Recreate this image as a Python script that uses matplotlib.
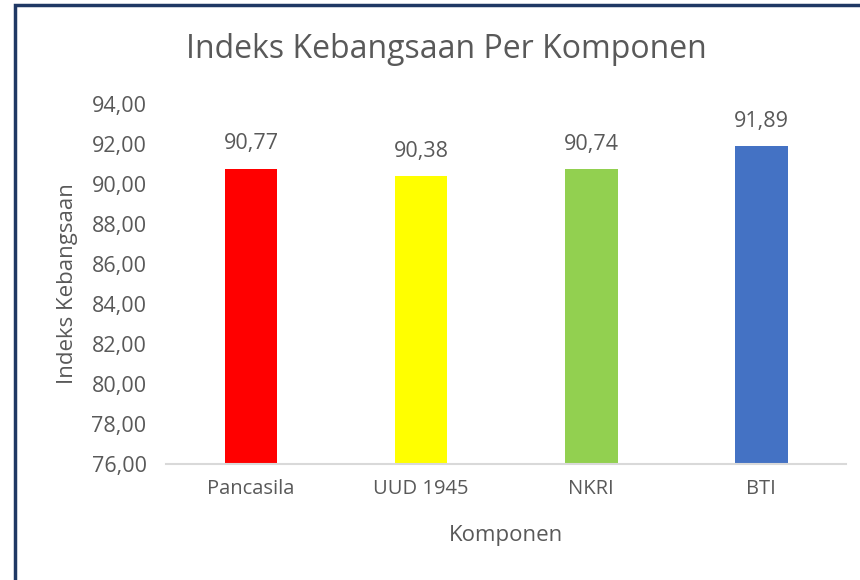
import matplotlib.pyplot as plt
from matplotlib.patches import Rectangle

plt.rcParams['font.family'] = ['Open Sans', 'DejaVu Sans']

komponen = ['Pancasila', 'UUD 1945', 'NKRI', 'BTI']
indeks = [90.77, 90.38, 90.74, 91.89]
warna = ['#ff0000', '#ffff00', '#92d050', '#4472c4']
y_ticks = [76, 78, 80, 82, 84, 86, 88, 90, 92, 94]

abu = '#595959'

fig = plt.figure(figsize=(8.6, 5.8), dpi=100)
ax = fig.add_axes([0.193, 0.2, 0.791, 0.6207])

x = range(len(komponen))
bars = ax.bar(x, indeks, width=0.31, color=warna, zorder=2)

ax.set_ylim(76, 94)
ax.set_xlim(-0.5, len(komponen) - 0.5)
ax.set_yticks(y_ticks)
ax.set_yticklabels([f'{v:.2f}'.replace('.', ',') for v in y_ticks])
ax.set_xticks(list(x))
ax.set_xticklabels(komponen)
ax.tick_params(axis='both', length=0, colors=abu)
ax.tick_params(axis='y', labelsize=15.5, pad=14)
ax.tick_params(axis='x', labelsize=14.5, pad=11)

for s in ['top', 'right', 'left']:
    ax.spines[s].set_visible(False)
ax.spines['bottom'].set_color('#d9d9d9')
ax.spines['bottom'].set_linewidth(1.5)

for b, v in zip(bars, indeks):
    ax.annotate(f'{v:.2f}'.replace('.', ','), (b.get_x() + b.get_width() / 2, v),
                xytext=(0, 18), textcoords='offset points', ha='center', va='center',
                fontsize=15.5, color=abu)

fig.text(506 / 860, 1 - 535 / 580, 'Komponen', ha='center', va='center',
         fontsize=16, color=abu)
fig.text(68 / 860, 1 - 284 / 580, 'Indeks Kebangsaan', ha='center', va='center',
         rotation=90, fontsize=16, color=abu)
fig.text(446 / 860, 1 - 50 / 580, 'Indeks Kebangsaan Per Komponen', ha='center',
         va='center', fontsize=23, color=abu)

# bingkai
fig.patches.append(Rectangle((14.5 / 860, -0.05), 1.1, 1 - 4.5 / 580 + 0.05,
                             transform=fig.transFigure, fill=False,
                             edgecolor='#1f3864', linewidth=2.5))

fig.savefig('out.png', dpi=100)
